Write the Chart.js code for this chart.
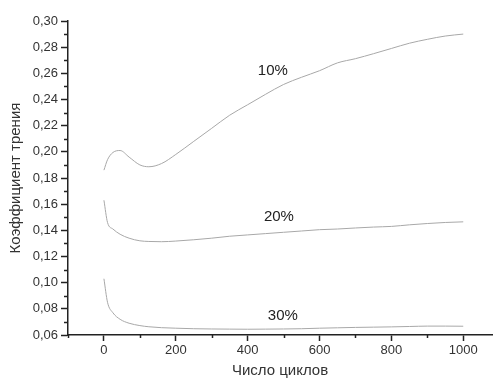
<!DOCTYPE html>
<html>
<head>
<meta charset="utf-8">
<script src="https://cdn.jsdelivr.net/npm/chart.js@4/dist/chart.umd.min.js"></script>
<style>
html,body{margin:0;padding:0;background:#fff;}
#wrap{width:493px;height:380px;position:relative;}
</style>
</head>
<body>
<div id="wrap"><canvas id="c" width="493" height="380"></canvas></div>
<script>
const cycles = [0, 10, 25, 45, 70, 100, 125, 160, 200, 250, 300, 350, 400, 450, 500, 550, 600, 650, 700, 750, 800, 850, 900, 950, 1000];
const series10 = [0.186, 0.194, 0.1995, 0.201, 0.196, 0.190, 0.1886, 0.191, 0.198, 0.208, 0.218, 0.228, 0.236, 0.244, 0.2515, 0.257, 0.262, 0.268, 0.2712, 0.275, 0.279, 0.283, 0.286, 0.2885, 0.290];
const series20 = [0.163, 0.146, 0.141, 0.137, 0.134, 0.132, 0.1315, 0.1313, 0.1318, 0.1328, 0.134, 0.1355, 0.1365, 0.1375, 0.1385, 0.1395, 0.1405, 0.141, 0.1418, 0.1425, 0.143, 0.1442, 0.1452, 0.146, 0.1465];
const series30 = [0.103, 0.085, 0.077, 0.072, 0.069, 0.0672, 0.0663, 0.0656, 0.0652, 0.0648, 0.0646, 0.0645, 0.0644, 0.0645, 0.0646, 0.0648, 0.0652, 0.0655, 0.0658, 0.066, 0.0662, 0.0665, 0.0668, 0.0668, 0.0667];
const seriesNames = ['10%', '20%', '30%'];
const labelCycles = [470, 487, 498];
const labelValues = [0.2616, 0.1505, 0.075];
const xTicks = [0, 200, 400, 600, 800, 1000];
const yTicks = [0.06, 0.08, 0.10, 0.12, 0.14, 0.16, 0.18, 0.20, 0.22, 0.24, 0.26, 0.28, 0.30];
const xTitle = 'Число циклов';
const yTitle = 'Коэффициент трения';

const allSeries = [series10, series20, series30];
const datasets = allSeries.map((s, i) => ({
  label: seriesNames[i],
  data: cycles.map((c, j) => ({x: c, y: s[j]})),
  borderColor: '#a8a8a8',
  borderWidth: 1,
  pointRadius: 0,
  fill: false,
  cubicInterpolationMode: 'monotone'
}));

const FONT = '"Liberation Sans", Arial, sans-serif';

const extras = {
  id: 'extras',
  afterDraw(chart) {
    const ctx = chart.ctx;
    const xs = chart.scales.x, ys = chart.scales.y;
    ctx.save();
    ctx.strokeStyle = '#222';
    ctx.lineWidth = 1.5;
    for (let v = 0.07; v < 0.30; v += 0.02) {
      const py = Math.round(ys.getPixelForValue(v)) + 0.5;
      ctx.beginPath();
      ctx.moveTo(xs.left - 4, py);
      ctx.lineTo(xs.left, py);
      ctx.stroke();
    }
    for (let v = -100; v <= 1080; v += 200) {
      const px = Math.round(xs.getPixelForValue(v)) + 0.5;
      ctx.beginPath();
      ctx.moveTo(px, ys.bottom);
      ctx.lineTo(px, ys.bottom + 3);
      ctx.stroke();
    }
    ctx.fillStyle = '#222';
    ctx.font = '15px ' + FONT;
    ctx.textAlign = 'center';
    ctx.textBaseline = 'middle';
    seriesNames.forEach((n, i) => {
      ctx.fillText(n, xs.getPixelForValue(labelCycles[i]), ys.getPixelForValue(labelValues[i]));
    });
    ctx.restore();
  }
};

new Chart(document.getElementById('c'), {
  type: 'line',
  data: {datasets},
  options: {
    responsive: false,
    animation: false,
    events: [],
    layout: {padding: {top: 21, right: 1, left: 0, bottom: 0}},
    plugins: {legend: {display: false}, tooltip: {enabled: false}},
    scales: {
      x: {
        type: 'linear',
        min: -100,
        max: 1080,
        afterBuildTicks: s => { s.ticks = xTicks.map(v => ({value: v})); },
        afterFit: s => { s.height = 45; },
        border: {display: true, color: '#222', width: 1.5},
        grid: {drawOnChartArea: false, drawTicks: true, tickLength: 6, tickColor: '#222', tickWidth: 1.5},
        ticks: {color: '#333', font: {family: FONT, size: 13}, padding: 2, maxRotation: 0,
          callback: v => String(v)},
        title: {display: true, text: xTitle, color: '#333', font: {family: FONT, size: 15}, padding: {top: 0, bottom: 0}}
      },
      y: {
        type: 'linear',
        min: 0.06,
        max: 0.30,
        afterBuildTicks: s => { s.ticks = yTicks.map(v => ({value: v})); },
        afterFit: s => { s.width = 68; },
        border: {display: true, color: '#222', width: 1.5},
        grid: {drawOnChartArea: false, drawTicks: true, tickLength: 7, tickColor: '#222', tickWidth: 1.5},
        ticks: {color: '#333', font: {family: FONT, size: 13}, padding: 3,
          callback: v => v.toFixed(2).replace('.', ',')},
        title: {display: true, text: yTitle, color: '#333', font: {family: FONT, size: 15}, padding: {top: 7, bottom: 0}}
      }
    }
  },
  plugins: [extras]
});
</script>
</body>
</html>
